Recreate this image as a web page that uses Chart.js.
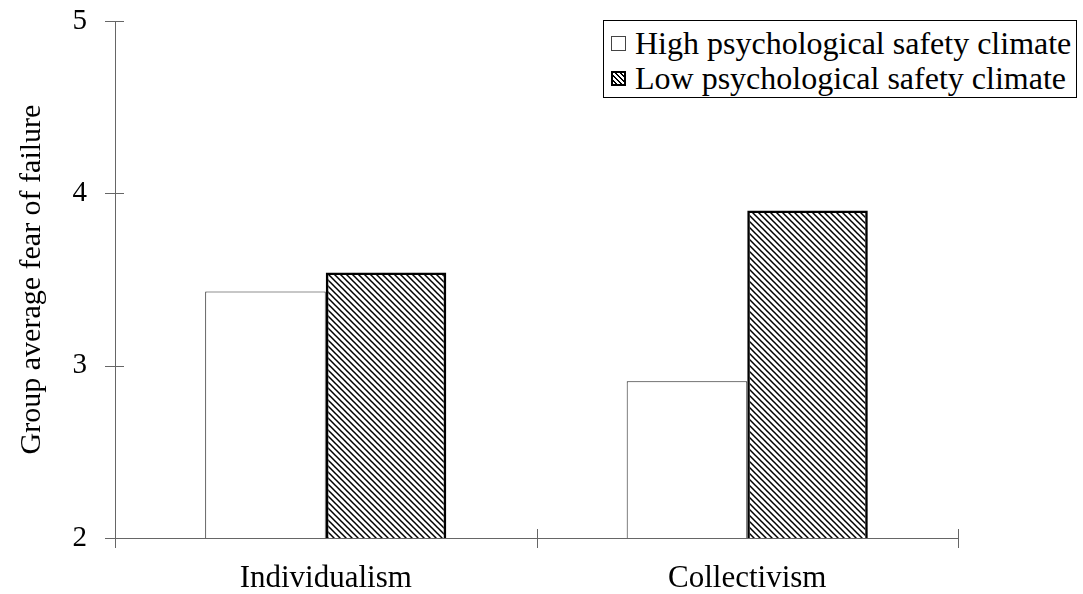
<!DOCTYPE html>
<html>
<head>
<meta charset="utf-8">
<script src="https://cdn.jsdelivr.net/npm/chart.js@4"></script>
<style>
  body { margin: 0; background: #fff; }
  #wrap { position: relative; width: 1083px; height: 594px; }
  #legend {
    position: absolute; left: 603px; top: 20px; width: 472px; height: 76px;
    border: 1px solid #000; background: #fff; box-sizing: content-box;
    font-family: "Liberation Serif", serif; font-size: 32px; color: #000;
  }
  #legend .row { display: flex; align-items: center; height: 35px; padding-left: 7px; line-height: 35px; }
  #legend .row:first-child { margin-top: 5px; }
  #legend .box { width: 15px; height: 15px; box-sizing: border-box; margin-right: 9px; }
</style>
</head>
<body>
<div id="wrap">
  <canvas id="chart"></canvas>
  <div id="legend"></div>
</div>
<script>
// Dados do gráfico
const categories = ['Individualism', 'Collectivism'];
const seriesLabels = ['High psychological safety climate', 'Low psychological safety climate'];
const highValues = [3.43, 2.91];
const lowValues = [3.54, 3.90];
const yTicks = [2, 3, 4, 5];

const serif = '"Liberation Serif", "Times New Roman", serif';

// Padrão de hachura diagonal
function makeHatch() {
    const c = document.createElement('canvas');
    c.width = 6; c.height = 6;
    const g = c.getContext('2d');
    g.strokeStyle = '#000';
    g.lineWidth = 1.5;
    g.beginPath();
    g.moveTo(-1, -1); g.lineTo(7, 7);
    g.moveTo(-1, 5); g.lineTo(1, 7);
    g.moveTo(5, -1); g.lineTo(7, 1);
    g.stroke();
    return g.createPattern(c, 'repeat');
}

// Marcas que cruzam os eixos
const crossTicks = {
    id: 'crossTicks',
    afterDraw(chart) {
        const ctx = chart.ctx;
        const x = chart.scales.x, y = chart.scales.y;
        ctx.save();
        ctx.strokeStyle = '#666';
        ctx.lineWidth = 1;
        yTicks.forEach(v => {
            const py = Math.round(y.getPixelForValue(v)) + 0.5;
            ctx.beginPath();
            ctx.moveTo(x.left - 10, py);
            ctx.lineTo(x.left + 9, py);
            ctx.stroke();
        });
        for (let i = 0; i <= categories.length; i++) {
            const px = Math.round(x.getPixelForValue(i - 0.5)) + 0.5;
            ctx.beginPath();
            ctx.moveTo(px, y.bottom - 9);
            ctx.lineTo(px, y.bottom + 10);
            ctx.stroke();
        }
        ctx.restore();
    }
};

const ctx = document.getElementById('chart').getContext('2d');
const hatch = makeHatch();

const myChart = new Chart(ctx, {
    type: 'bar',
    data: {
        labels: categories,
        datasets: [
            {
                label: seriesLabels[0],
                data: highValues,
                backgroundColor: '#fff',
                borderColor: '#222',
                borderWidth: 1,
                borderSkipped: false
            },
            {
                label: seriesLabels[1],
                data: lowValues,
                backgroundColor: hatch,
                borderColor: '#000',
                borderWidth: 2.5,
                borderSkipped: false
            }
        ]
    },
    options: {
        responsive: true,
        maintainAspectRatio: false,
        animation: false,
        layout: { padding: { top: 21, right: 125, left: 0, bottom: 0 } },
        plugins: { legend: { display: false }, tooltip: { enabled: false } },
        datasets: { bar: { categoryPercentage: 0.572, barPercentage: 1 } },
        scales: {
            x: {
                grid: { display: true, drawOnChartArea: false, drawTicks: false, offset: true },
                border: { color: '#666', width: 1 },
                ticks: { color: '#000', font: { family: serif, size: 31 }, padding: 22 },
                afterFit(scale) { scale.height = 56; }
            },
            y: {
                min: 2, max: 5,
                grid: { display: true, drawOnChartArea: false, drawTicks: true, tickLength: 28, tickColor: 'rgba(0,0,0,0)' },
                border: { color: '#666', width: 1 },
                ticks: { stepSize: 1, color: '#000', font: { family: serif, size: 29 }, padding: 0 },
                title: {
                    display: true,
                    text: 'Group average fear of failure',
                    color: '#000',
                    font: { family: serif, size: 30 },
                    padding: { top: 14, bottom: 0 }
                },
                afterFit(scale) { scale.width = 115; }
            }
        }
    },
    plugins: [crossTicks]
});

// Legenda em HTML
const legend = document.getElementById('legend');
seriesLabels.forEach((label, i) => {
    const row = document.createElement('div');
    row.className = 'row';
    const box = document.createElement('span');
    box.className = 'box';
    if (i === 0) {
        box.style.border = '1px solid #444';
    } else {
        box.style.border = '2px solid #000';
        box.style.background = 'repeating-linear-gradient(45deg, #fff 0 2px, #000 2px 3.5px)';
    }
    const txt = document.createElement('span');
    txt.textContent = label;
    row.appendChild(box);
    row.appendChild(txt);
    legend.appendChild(row);
});
</script>
</body>
</html>
